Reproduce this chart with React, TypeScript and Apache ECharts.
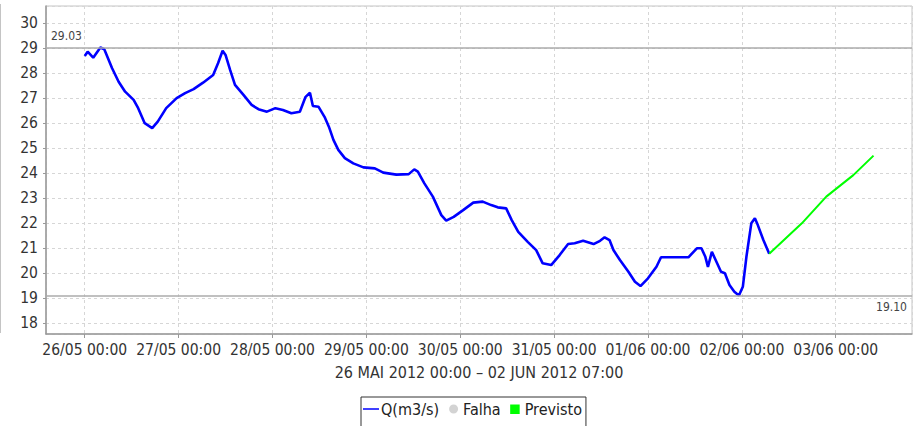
import { useEffect, useRef } from 'react';
import * as echarts from 'echarts';

// Observed discharge Q(m3/s)
const qTimes = [
  '2012-05-26 00:00', '2012-05-26 00:45', '2012-05-26 02:10', '2012-05-26 04:00', '2012-05-26 05:00',
  '2012-05-26 07:00', '2012-05-26 08:40', '2012-05-26 10:20', '2012-05-26 12:30', '2012-05-26 13:40',
  '2012-05-26 15:20', '2012-05-26 17:15', '2012-05-26 18:40', '2012-05-26 20:50', '2012-05-26 23:30',
  '2012-05-27 01:40', '2012-05-27 03:50', '2012-05-27 06:15', '2012-05-27 08:50', '2012-05-27 10:05',
  '2012-05-27 11:15', '2012-05-27 12:00', '2012-05-27 13:10', '2012-05-27 14:25', '2012-05-27 16:35',
  '2012-05-27 18:40', '2012-05-27 20:25', '2012-05-27 22:35', '2012-05-28 00:45', '2012-05-28 02:40',
  '2012-05-28 04:50', '2012-05-28 07:00', '2012-05-28 08:25', '2012-05-28 09:35', '2012-05-28 10:20',
  '2012-05-28 11:45', '2012-05-28 13:25', '2012-05-28 14:25', '2012-05-28 15:35', '2012-05-28 16:50',
  '2012-05-28 18:30', '2012-05-28 20:40', '2012-05-28 23:15', '2012-05-29 02:10', '2012-05-29 04:20',
  '2012-05-29 07:40', '2012-05-29 10:50', '2012-05-29 12:15', '2012-05-29 13:10', '2012-05-29 14:50',
  '2012-05-29 17:00', '2012-05-29 19:10', '2012-05-29 20:25', '2012-05-29 22:20', '2012-05-30 00:45',
  '2012-05-30 03:20', '2012-05-30 05:45', '2012-05-30 07:55', '2012-05-30 09:35', '2012-05-30 11:45',
  '2012-05-30 13:10', '2012-05-30 14:50', '2012-05-30 17:15', '2012-05-30 19:25', '2012-05-30 21:05',
  '2012-05-30 23:15', '2012-05-31 01:25', '2012-05-31 03:35', '2012-05-31 05:15', '2012-05-31 07:25',
  '2012-05-31 10:05', '2012-05-31 11:45', '2012-05-31 12:55', '2012-05-31 14:10', '2012-05-31 15:10',
  '2012-05-31 16:50', '2012-05-31 19:00', '2012-05-31 20:40', '2012-05-31 22:05', '2012-06-01 00:00',
  '2012-06-01 02:10', '2012-06-01 03:20', '2012-06-01 06:30', '2012-06-01 10:20', '2012-06-01 12:30',
  '2012-06-01 13:40', '2012-06-01 14:40', '2012-06-01 15:20', '2012-06-01 16:20', '2012-06-01 17:30',
  '2012-06-01 18:40', '2012-06-01 19:40', '2012-06-01 20:50', '2012-06-01 22:05', '2012-06-01 23:15',
  '2012-06-02 00:15', '2012-06-02 01:10', '2012-06-02 02:25', '2012-06-02 03:20', '2012-06-02 04:05',
  '2012-06-02 05:30', '2012-06-02 07:00',
];
const qValues = [
  28.69, 28.86, 28.62, 29.03, 28.96,
  28.2, 27.66, 27.26, 26.93, 26.6,
  26.0, 25.8, 26.06, 26.6, 27.0,
  27.2, 27.36, 27.62, 27.93, 28.4,
  28.9, 28.73, 28.13, 27.53, 27.13,
  26.73, 26.56, 26.46, 26.6, 26.53,
  26.4, 26.46, 27.04, 27.22, 26.69,
  26.66, 26.22, 25.86, 25.33, 24.93,
  24.6, 24.39, 24.23, 24.19, 24.02,
  23.94, 23.96, 24.15, 24.06, 23.59,
  23.06, 22.32, 22.1, 22.25, 22.52,
  22.82, 22.86, 22.72, 22.63, 22.59,
  22.12, 21.65, 21.25, 20.92, 20.39,
  20.32, 20.72, 21.16, 21.19, 21.29,
  21.16, 21.29, 21.43, 21.32, 20.92,
  20.52, 20.05, 19.65, 19.48, 19.79,
  20.25, 20.63, 20.63, 20.63, 20.99,
  20.99, 20.65, 20.25, 20.85, 20.45,
  20.05, 19.99, 19.52, 19.25, 19.1,
  19.45, 20.65, 21.99, 22.19, 21.92,
  21.32, 20.77,
];

// Forecast (Previsto)
const prevTimes = ['2012-06-02 07:00', '2012-06-02 15:20', '2012-06-02 21:35', '2012-06-03 04:30', '2012-06-03 09:40'];
const prevValues = [20.77, 21.99, 23.06, 23.92, 24.7];

const refLines = [29.03, 19.1];
const seriesNames = ['Q(m3/s)', 'Falha', 'Previsto'];
const axisTitle = '26 MAI 2012 00:00 – 02 JUN 2012 07:00';
const xRange = ['2012-05-25 14:06', '2012-06-03 19:30'];
const yRange = [17.56, 30.69];

const toTs = (s: string) => {
  const [d, t] = s.split(' ');
  const [Y, M, D] = d.split('-').map(Number);
  const [h, m] = t.split(':').map(Number);
  return new Date(Y, M - 1, D, h, m).getTime();
};
const pad = (n: number) => (n < 10 ? '0' + n : '' + n);

export default function App() {
  const ref = useRef<HTMLDivElement>(null);
  useEffect(() => {
    if (!ref.current) return;
    const chart = echarts.init(ref.current, undefined, { renderer: 'svg' });
    const tickFont = '"Liberation Sans Narrow", "DejaVu Sans Condensed", sans-serif';
    const mainFont = '"DejaVu Sans Condensed", "DejaVu Sans", sans-serif';
    chart.setOption({
      animation: false,
      backgroundColor: '#ffffff',
      grid: {
        left: 46, right: 6, top: 6, bottom: 92,
        show: true, borderColor: '#c4c4c4', borderWidth: 1, backgroundColor: 'transparent',
      },
      xAxis: {
        type: 'time',
        min: toTs(xRange[0]),
        max: toTs(xRange[1]),
        minInterval: 86400000,
        maxInterval: 86400000,
        splitNumber: 9,
        name: axisTitle,
        nameLocation: 'middle',
        nameGap: 30,
        nameTextStyle: { fontFamily: mainFont, fontSize: 16, color: '#333' },
        axisLine: { lineStyle: { color: '#999', width: 1.5 } },
        axisTick: { show: true, length: 4, lineStyle: { color: '#999' } },
        axisLabel: {
          showMinLabel: false, showMaxLabel: false,
          margin: 8, fontFamily: tickFont, fontSize: 15.5, color: '#333',
          formatter: (v: number) => {
            const d = new Date(v);
            return pad(d.getDate()) + '/' + pad(d.getMonth() + 1) + ' ' + pad(d.getHours()) + ':' + pad(d.getMinutes());
          },
        },
        splitLine: { show: true, lineStyle: { color: '#d6d6d6', type: [3, 3], width: 1 } },
      },
      yAxis: {
        type: 'value',
        min: yRange[0],
        max: yRange[1],
        splitNumber: 13,
        axisLine: { show: true, lineStyle: { color: '#999', width: 1.5 } },
        axisTick: { show: true, length: 3, lineStyle: { color: '#999' } },
        axisLabel: {
          showMinLabel: false, showMaxLabel: false,
          margin: 8, fontFamily: tickFont, fontSize: 15.5, color: '#333',
          formatter: (v: number) => (Number.isInteger(v) ? String(v) : ''),
        },
        splitLine: { show: true, lineStyle: { color: '#d6d6d6', type: [3, 3], width: 1 } },
      },
      legend: {
        left: 361, top: 397,
        data: [
          { name: seriesNames[0], icon: 'path://M0,0M16,10M0,4.25h16v1.5h-16z' },
          { name: seriesNames[1], icon: 'path://M0,0M16,10M4,5a4.5,4.5 0 1,0 9,0a4.5,4.5 0 1,0 -9,0z' },
          { name: seriesNames[2], icon: 'path://M0,0M16,10M3.5,0.5h9.5v9.5h-9.5z' },
        ],
        itemWidth: 16, itemHeight: 10, itemGap: 6,
        borderColor: '#333', borderWidth: 1,
        padding: [4, 4, 12, 2],
        textStyle: { fontFamily: mainFont, fontSize: 16, color: '#222', padding: [0, 0, 0, -3] },
      },
      graphic: [
        { type: 'line', shape: { x1: 0.5, y1: 4, x2: 0.5, y2: 333 }, style: { stroke: '#c4c4c4', lineWidth: 1 }, silent: true },
      ],
      series: [
        {
          name: seriesNames[0],
          type: 'line',
          data: qTimes.map((t, i) => [toTs(t), qValues[i]]),
          symbol: 'none',
          showSymbol: false,
          lineStyle: { color: '#0000ff', width: 2.6 },
          itemStyle: { color: '#0000ff' },
          z: 3,
          markLine: {
            silent: true,
            symbol: 'none',
            animation: false,
            lineStyle: { color: '#ababab', type: 'solid', width: 1.5 },
            label: { fontFamily: mainFont, fontSize: 12, color: '#444', distance: 5 },
            data: [
              { yAxis: refLines[0], label: { position: 'insideStartTop', formatter: refLines[0].toFixed(2) } },
              { yAxis: refLines[1], label: { position: 'insideEndBottom', formatter: refLines[1].toFixed(2) } },
            ],
          },
        },
        {
          name: seriesNames[1],
          type: 'scatter',
          data: [],
          itemStyle: { color: '#c8c8c8' },
        },
        {
          name: seriesNames[2],
          type: 'line',
          data: prevTimes.map((t, i) => [toTs(t), prevValues[i]]),
          symbol: 'none',
          showSymbol: false,
          lineStyle: { color: '#00ff00', width: 2 },
          itemStyle: { color: '#00ff00' },
          z: 3,
        },
      ],
    });
    return () => chart.dispose();
  }, []);
  return <div ref={ref} style={{ position: 'absolute', left: 0, top: 0, width: 918, height: 426, background: '#fff' }} />;
}
